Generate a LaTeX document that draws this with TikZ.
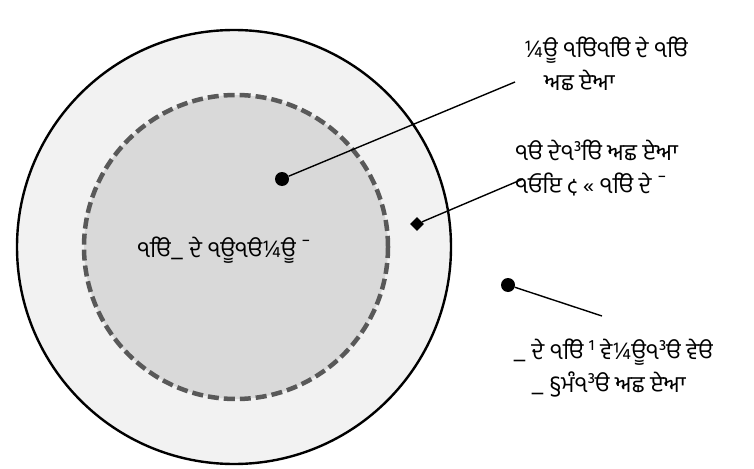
\documentclass[tikz,border=0pt]{standalone}
\usepackage{fontspec}
\newfontfamily\gurfont[Script=Gurmukhi]{Hind Jalandhar}
\usetikzlibrary{positioning,shapes.geometric}
\definecolor{outerfill}{HTML}{F2F2F2}
\definecolor{innerfill}{HTML}{D9D9D9}
\definecolor{dashgray}{HTML}{595959}
\tikzset{
  every picture/.style={line join=round},
  ring/.style={draw=black, line width=2.4pt, fill=outerfill},
  core/.style={draw=dashgray, line width=4.5pt, dash pattern=on 11pt off 5pt, fill=innerfill},
  dotmark/.style={circle, fill=black, inner sep=0pt, minimum size=14pt},
  boxmark/.style={diamond, fill=black, inner sep=0pt, minimum size=14pt},
  leader/.style={draw=black, line width=1.4pt},
  lbl/.style={font=\gurfont\fontsize{23}{33}\selectfont, align=left, inner sep=0pt},
}
\begin{document}
\begin{tikzpicture}[x=1pt,y=-1pt]
\useasboundingbox (0,0) rectangle (754,468);
% rings
\path[ring] (234,247) circle (217);
\path[core] (236,247) circle (152);
% markers
\node[dotmark] (coredot) at (282,179) {};
\node[boxmark] (edgemark) at (417,224) {};
\node[dotmark] (outdot) at (508,285) {};
% labels
\node[lbl, anchor=west] (toplbl) at (524,64) {¼ਊ ੧ੳਿ੧ੳਿ ਦੇ ੧ੳਿ\\\hspace{20pt}ਅਛ ਏਆ};
\node[lbl, anchor=west] (midlbl) at (515,168) {੧ੳ ਦੇ੧³ੳਿ ਅਛ ਏਆ\\੧ਓਇ ¢ « ੧ੳਿ ਦੇ ¯};
\node[lbl, anchor=west] (corelbl) at (137,250) {੧ੳਿ\_ ਦੇ ੧ਊ੧ੳ¼ਊ ¯};
\node[lbl, anchor=west] (outlbl) at (513,368) {\_ ਦੇ ੧ੳਿ ¹ ਵੇ¼ਊ੧³ੳ ਵੇੳ\\\hspace{18pt}\_ §ਮੰ੧³ੳ ਅਛ ਏਆ};
\coordinate (topend) at (515,82);
\coordinate (midend) at (523,179);
\coordinate (outend) at (602,316);
% leaders
\draw[leader] (coredot) -- (topend);
\draw[leader] (edgemark) -- (midend);
\draw[leader] (outdot) -- (outend);
\end{tikzpicture}
\end{document}
